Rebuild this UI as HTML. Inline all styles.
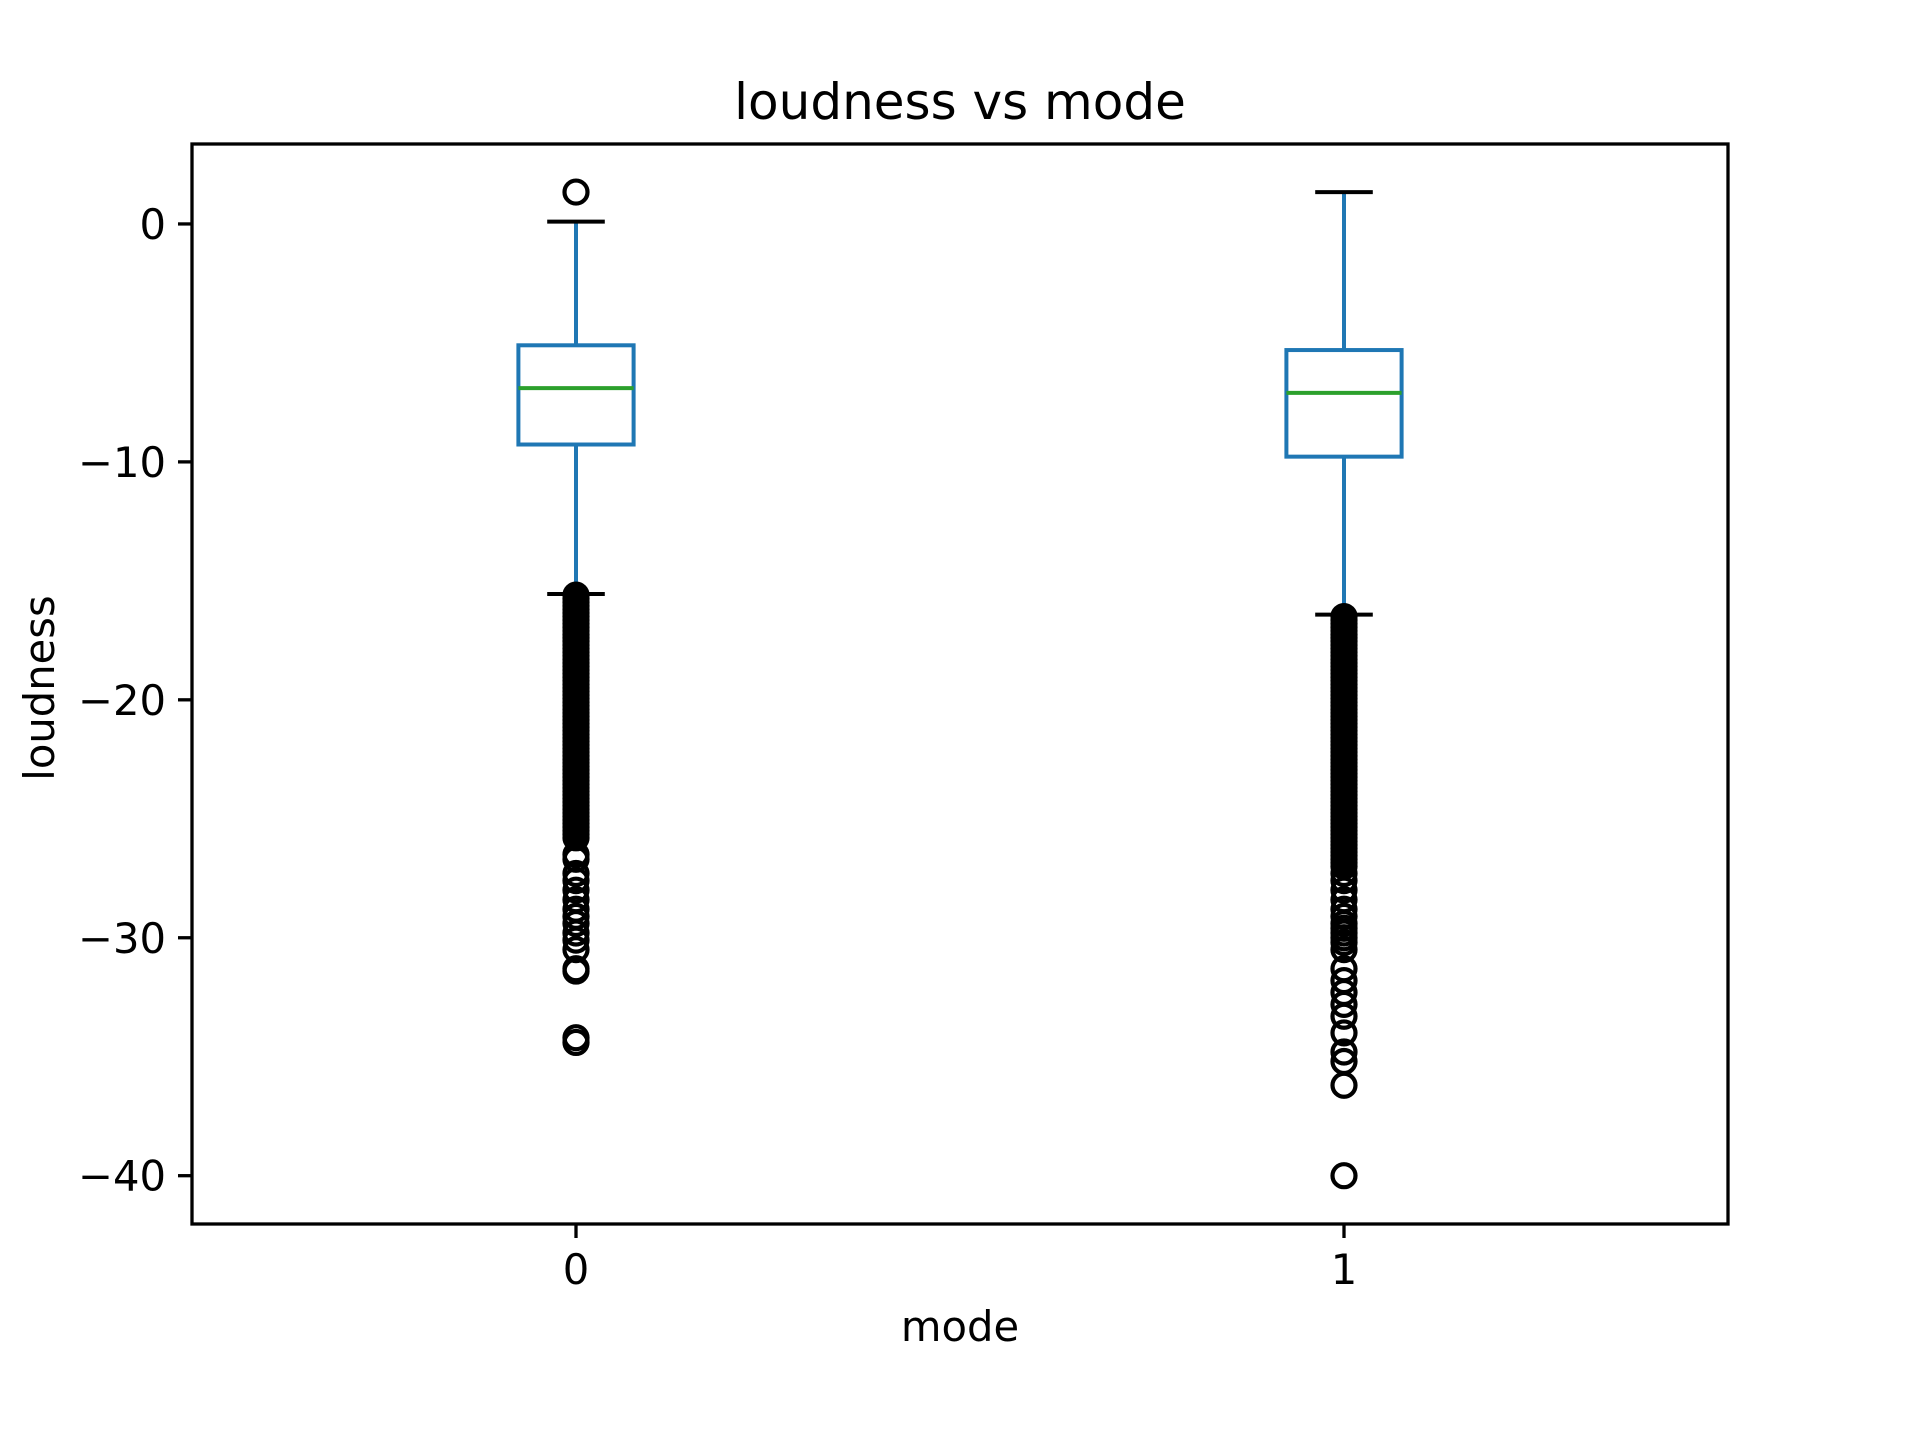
<!DOCTYPE html>
<html><head><meta charset="utf-8"><style>
html,body{margin:0;padding:0;background:#fff;}
svg{display:block;}
text{font-family:"DejaVu Sans","Liberation Sans",sans-serif;fill:#000;}
</style></head><body>
<svg id="chart" width="1920" height="1440" viewBox="0 0 1920 1440" xmlns="http://www.w3.org/2000/svg">
<rect x="0" y="0" width="1920" height="1440" fill="#fff"/>
<g id="plot"></g>
</svg>
<script>
const categories = ["0", "1"];
const q1Values = [-9.27, -9.78];
const medianValues = [-6.9, -7.1];
const q3Values = [-5.1, -5.3];
const whiskerLow = [-15.55, -16.42];
const whiskerHigh = [0.1, 1.34];
const outliers0 = [1.34, -15.6, -15.75, -15.9, -16.05, -16.2, -16.35, -16.5, -16.65, -16.8, -16.95, -17.1, -17.25, -17.4, -17.55, -17.7, -17.85, -18.0, -18.15, -18.3, -18.45, -18.6, -18.75, -18.9, -19.05, -19.2, -19.35, -19.5, -19.65, -19.8, -19.95, -20.1, -20.25, -20.4, -20.55, -20.7, -20.85, -21.0, -21.15, -21.3, -21.45, -21.6, -21.75, -21.9, -22.05, -22.2, -22.35, -22.5, -22.65, -22.8, -22.95, -23.1, -23.25, -23.4, -23.55, -23.7, -23.85, -24.0, -24.15, -24.3, -24.45, -24.6, -24.75, -24.9, -25.05, -25.2, -25.35, -25.5, -25.65, -25.8, -26.5, -26.7, -27.3, -27.6, -28.0, -28.4, -28.8, -29.1, -29.4, -29.8, -30.1, -30.5, -31.3, -31.4, -34.2, -34.4];
const outliers1 = [-16.5, -16.65, -16.8, -16.95, -17.1, -17.25, -17.4, -17.55, -17.7, -17.85, -18.0, -18.15, -18.3, -18.45, -18.6, -18.75, -18.9, -19.05, -19.2, -19.35, -19.5, -19.65, -19.8, -19.95, -20.1, -20.25, -20.4, -20.55, -20.7, -20.85, -21.0, -21.15, -21.3, -21.45, -21.6, -21.75, -21.9, -22.05, -22.2, -22.35, -22.5, -22.65, -22.8, -22.95, -23.1, -23.25, -23.4, -23.55, -23.7, -23.85, -24.0, -24.15, -24.3, -24.45, -24.6, -24.75, -24.9, -25.05, -25.2, -25.35, -25.5, -25.65, -25.8, -25.95, -26.1, -26.25, -26.4, -26.55, -26.7, -26.85, -27.0, -27.3, -27.6, -28.0, -28.4, -28.8, -29.1, -29.4, -29.6, -29.8, -30.0, -30.2, -30.5, -31.3, -31.8, -32.3, -32.8, -33.3, -34.0, -34.8, -35.2, -36.2, -40.0];
const outlierSets = [outliers0, outliers1];
const yTicks = [0, -10, -20, -30, -40];
const yTickLabels = ["0", "\u221210", "\u221220", "\u221230", "\u221240"];

const L = 192, R = 1728, T = 144, B = 1224;
const xMin = -0.5, xMax = 1.5, yMin = -42.03, yMax = 3.36;
const xs = v => L + (v - xMin) / (xMax - xMin) * (R - L);
const ys = v => B - (v - yMin) / (yMax - yMin) * (B - T);
const NS = "http://www.w3.org/2000/svg";
const g = document.getElementById('plot');
function mk(tag, attrs, parent) {
  const e = document.createElementNS(NS, tag);
  for (const k in attrs) e.setAttribute(k, attrs[k]);
  (parent || g).appendChild(e);
  return e;
}
const blue = "#1f77b4", green = "#2ca02c";
const halfBox = 0.075 * (R - L) / 2, halfCap = halfBox / 2;

categories.forEach((c, i) => {
  const cx = xs(i);
  const grp = mk('g', {});
  
  
  let e = mk('line', {x1: cx, x2: cx, y1: ys(q3Values[i]), y2: ys(whiskerHigh[i]), stroke: blue, 'stroke-width': 4}, grp);
  
  
  e = mk('line', {x1: cx, x2: cx, y1: ys(q1Values[i]), y2: ys(whiskerLow[i]), stroke: blue, 'stroke-width': 4}, grp);
  
  
  e = mk('line', {x1: cx - halfCap, x2: cx + halfCap, y1: ys(whiskerHigh[i]), y2: ys(whiskerHigh[i]), stroke: '#000', 'stroke-width': 4}, grp);
  
  
  e = mk('line', {x1: cx - halfCap, x2: cx + halfCap, y1: ys(whiskerLow[i]), y2: ys(whiskerLow[i]), stroke: '#000', 'stroke-width': 4}, grp);
  
  
  e = mk('rect', {x: cx - halfBox, y: ys(q3Values[i]), width: 2 * halfBox, height: ys(q1Values[i]) - ys(q3Values[i]), fill: 'none', stroke: blue, 'stroke-width': 4}, grp);
  
  
  e = mk('line', {x1: cx - halfBox, x2: cx + halfBox, y1: ys(medianValues[i]), y2: ys(medianValues[i]), stroke: green, 'stroke-width': 4}, grp);
  
  
  outlierSets[i].forEach(v => {
    const o = mk('ellipse', {cx: cx, cy: ys(v), rx: 11.5, ry: 11.5, fill: 'none', stroke: '#000', 'stroke-width': 4.2}, grp);
    
    
  });
  e = mk('line', {x1: cx, x2: cx, y1: B, y2: B + 14, stroke: '#000', 'stroke-width': 3.3});
  
  
  e = mk('text', {x: cx, y: B + 60, 'font-size': 41.7, 'text-anchor': 'middle'});
  e.textContent = c;
  
  
});

yTicks.forEach((v, k) => {
  let e = mk('line', {x1: L - 14, x2: L, y1: ys(v), y2: ys(v), stroke: '#000', 'stroke-width': 3.3});
  
  
  e = mk('text', {x: L - 26, y: ys(v) + 15, 'font-size': 41.7, 'text-anchor': 'end'});
  e.textContent = yTickLabels[k];
  
  
});

let fr = mk('rect', {x: L, y: T, width: R - L, height: B - T, fill: 'none', stroke: '#000', 'stroke-width': 3.3});



let t = mk('text', {x: 960, y: 119, 'font-size': 50, 'text-anchor': 'middle'});
t.textContent = 'loudness vs mode';


t = mk('text', {x: 960, y: 1341, 'font-size': 41.7, 'text-anchor': 'middle'});
t.textContent = 'mode';


t = mk('text', {x: 54, y: 688, 'font-size': 41.7, 'text-anchor': 'middle', transform: 'rotate(-90 54 688)'});
t.textContent = 'loudness';


</script>
</body></html>
